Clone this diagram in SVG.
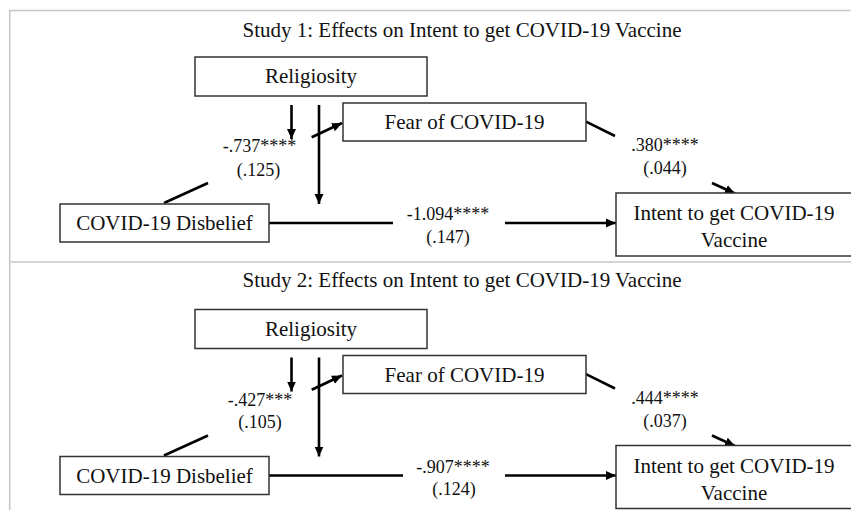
<svg xmlns="http://www.w3.org/2000/svg" width="851" height="510" viewBox="0 0 851 510">
<style>
text{font-family:"Liberation Serif","Times New Roman",serif;fill:#111;text-anchor:middle}
.t{font-size:21px}
.n{font-size:21px}
.l{font-size:18px}
.box{fill:#fff;stroke:#333;stroke-width:1.5}
.c{stroke:#000;stroke-width:2.6;fill:none}
.a{marker-end:url(#ah)}
.frame{stroke:#c8c8c8;stroke-width:1.6;fill:none}
</style>
<defs>
<marker id="ah" markerUnits="userSpaceOnUse" markerWidth="11" markerHeight="10" refX="10" refY="5" orient="auto">
<path d="M0,0.5 L10,5 L0,9.5 z" fill="#000"/>
</marker>
</defs>
<rect width="851" height="510" fill="#fff"/>
<g id="frame">
<path class="frame" d="M9.7,510 V10.5 H851 M9.7,262 H851"/>
</g>
<g id="panel1">
<text class="t" x="462" y="37">Study 1: Effects on Intent to get COVID-19 Vaccine</text>
<g id="connectors1">
<line class="c a" x1="291.5" y1="105" x2="291.5" y2="139"/>
<line class="c a" x1="319" y1="105" x2="319" y2="204"/>
<line class="c" x1="164" y1="203" x2="208" y2="183"/>
<line class="c a" x1="311.7" y1="137.3" x2="342" y2="123"/>
<line class="c" x1="586" y1="121.7" x2="615" y2="136"/>
<line class="c a" x1="712" y1="183" x2="735" y2="193.5"/>
<line class="c" x1="269" y1="223" x2="393" y2="223"/>
<line class="c a" x1="505" y1="223" x2="616" y2="223"/>
<text class="l" x="259.5" y="152">-.737****</text>
<text class="l" x="258.5" y="176">(.125)</text>
<text class="l" x="665" y="151">.380****</text>
<text class="l" x="665" y="174">(.044)</text>
<text class="l" x="448" y="220">-1.094****</text>
<text class="l" x="448" y="243">(.147)</text>
</g>
<g id="religiosity1"><rect class="box" x="195" y="57" width="232" height="39"/><text class="n" x="311" y="83">Religiosity</text></g>
<g id="fear1"><rect class="box" x="343" y="103" width="243" height="38"/><text class="n" x="464.5" y="129">Fear of COVID-19</text></g>
<g id="disbelief1"><rect class="box" x="60" y="204" width="209" height="38"/><text class="n" x="164.5" y="230">COVID-19 Disbelief</text></g>
<g id="intent1"><rect class="box" x="616" y="193" width="236" height="63"/><text class="n" x="734" y="220">Intent to get COVID-19</text><text class="n" x="734" y="247">Vaccine</text></g>
</g>
<g id="panel2" transform="translate(0,252.5)">
<text class="t" x="462" y="34">Study 2: Effects on Intent to get COVID-19 Vaccine</text>
<g id="connectors2">
<line class="c a" x1="291.5" y1="105" x2="291.5" y2="139"/>
<line class="c a" x1="319" y1="105" x2="319" y2="204"/>
<line class="c" x1="164" y1="203" x2="208" y2="183"/>
<line class="c a" x1="311.7" y1="137.3" x2="342" y2="123"/>
<line class="c" x1="586" y1="121.7" x2="615" y2="136"/>
<line class="c a" x1="712" y1="183" x2="735" y2="193.5"/>
<line class="c" x1="269" y1="223" x2="403" y2="223"/>
<line class="c a" x1="505" y1="223" x2="616" y2="223"/>
<text class="l" x="260" y="153.5">-.427***</text>
<text class="l" x="260" y="175.5">(.105)</text>
<text class="l" x="665" y="151">.444****</text>
<text class="l" x="665" y="174">(.037)</text>
<text class="l" x="453" y="220.5">-.907****</text>
<text class="l" x="454" y="242.5">(.124)</text>
</g>
<g id="religiosity2"><rect class="box" x="195" y="57" width="232" height="39"/><text class="n" x="311" y="83">Religiosity</text></g>
<g id="fear2"><rect class="box" x="343" y="103" width="243" height="38"/><text class="n" x="464.5" y="129">Fear of COVID-19</text></g>
<g id="disbelief2"><rect class="box" x="60" y="204" width="209" height="38"/><text class="n" x="164.5" y="230">COVID-19 Disbelief</text></g>
<g id="intent2"><rect class="box" x="616" y="193" width="236" height="63"/><text class="n" x="734" y="220">Intent to get COVID-19</text><text class="n" x="734" y="247">Vaccine</text></g>
</g>
</svg>
